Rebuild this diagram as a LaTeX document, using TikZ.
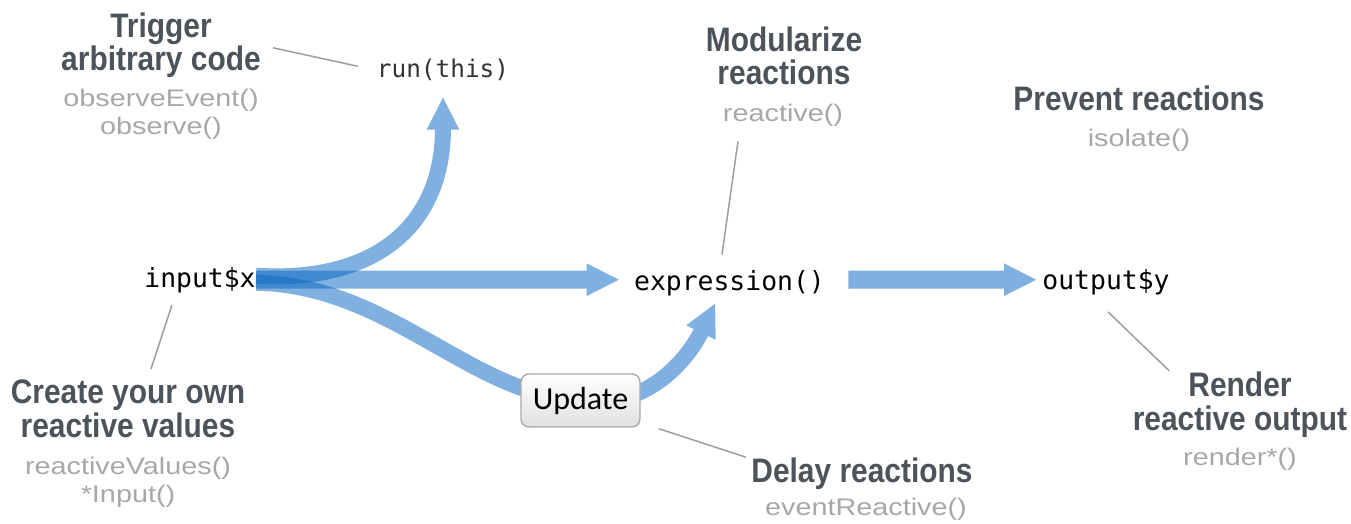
\documentclass[tikz,border=0pt]{standalone}
\usepackage{fontspec}
\usetikzlibrary{arrows.meta,backgrounds}

\newfontfamily\headfont{Liberation Sans}[FakeStretch=0.88]
\newfontfamily\fnfont{Liberation Sans}[FakeStretch=1.2]
\newfontfamily\codefont{DejaVu Sans Mono}
\newfontfamily\buttonfont{Carlito}

\definecolor{headgray}{RGB}{77,83,91}
\definecolor{fngray}{RGB}{166,168,168}
\definecolor{pointergray}{RGB}{158,158,158}
\definecolor{flowblue}{RGB}{11,104,194}
\definecolor{codedark}{RGB}{51,51,51}

\tikzset{
  head/.style={align=center, inner sep=0pt, text=headgray,
    font=\headfont\bfseries\fontsize{17}{17}\selectfont},
  fn/.style={align=center, inner sep=0pt, text=fngray,
    font=\fnfont\fontsize{12}{14}\selectfont},
  code/.style={inner sep=0pt, font=\codefont\fontsize{13.2}{15}\selectfont},
  button/.style={draw=black!33, line width=0.7pt, rounded corners=4pt,
    top color=white, bottom color=black!12, minimum width=59.5pt,
    minimum height=26.5pt, inner sep=0pt,
    font=\buttonfont\fontsize{16}{16}\selectfont},
  flow/.style={draw=flowblue, line width=8pt,
    -{Triangle[length=16.5pt,width=15pt]}},
  flowlayer/.style={transparency group, opacity=0.52},
  pointer/.style={draw=pointergray, line width=0.75pt}
}

\begin{document}
\begin{tikzpicture}[x=0.5pt,y=-0.5pt]

    \useasboundingbox (0,0) rectangle (1351,524);

    % Values, expression and output
    \node[code, anchor=base] (inputx) at (200,287) {input\$x};
    \node[code, anchor=base, text=codedark,
      font=\codefont\fontsize{12.2}{14}\selectfont] (runthis) at (443,78) {run(this)};
    \node[code, anchor=base] (expr) at (729.5,291) {expression()};
    \node[code, anchor=base] (outputy) at (1106,290) {output\$y};
    \node[button] (update) at (580.5,400.5) {Update};

    % Labels (base = last line)
    \node[head, anchor=base] (trigger) at (161,71) {Trigger\\arbitrary code};
    \node[fn, anchor=base] (triggerfn) at (161,135) {observeEvent()\\observe()};
    \node[head, anchor=base] (modular) at (784,85) {Modularize\\reactions};
    \node[fn, anchor=base] (modularfn) at (783,122) {reactive()};
    \node[head, anchor=base] (prevent) at (1139,111) {Prevent reactions};
    \node[fn, anchor=base] (preventfn) at (1139,147) {isolate()};
    \node[head, anchor=base] (create) at (128,437) {Create your own\\reactive values};
    \node[fn, anchor=base] (createfn) at (128,502) {reactiveValues()\\*Input()};
    \node[head, anchor=base] (delay) at (862,482) {Delay reactions};
    \node[fn, anchor=base] (delayfn) at (866,515) {eventReactive()};
    \node[head, anchor=base] (render) at (1240,430) {Render\\reactive output};
    \node[fn, anchor=base] (renderfn) at (1240,465) {render*()};

    % Reactive flow
    \begin{scope}[on background layer]
      \begin{scope}[flowlayer]
        \draw[flow, line width=9pt, shorten >=7pt] (inputx.east) -- (inputx.east -| expr.west);
      \end{scope}
      \begin{scope}[flowlayer]
        \draw[flow, line width=9pt, shorten <=11.5pt, shorten >=2.5pt]
          (inputx.east -| expr.east) -- (inputx.east -| outputy.west);
      \end{scope}
      \begin{scope}[flowlayer]
        \draw[flow, shorten >=7.5pt] ([yshift=2pt]inputx.east)
          .. controls (370,283) and (443,230) .. (runthis.south);
      \end{scope}
      \begin{scope}[flowlayer]
        \draw[flow] ([yshift=-1.5pt]inputx.east)
          .. controls (390,285) and (470,395) .. (update.center)
          .. controls (650,410) and (690,355) .. ([xshift=-7pt,yshift=-3pt]expr.south);
      \end{scope}
    \end{scope}

    % Pointers from labels
    \draw[pointer, shorten <=6pt, shorten >=9.5pt] (trigger.east) -- (runthis.west);
    \draw[pointer] ([xshift=-22.5pt,yshift=-7pt]modularfn.south) -- ([xshift=-3.75pt,yshift=8pt]expr.north);
    \draw[pointer] ([xshift=-14pt,yshift=-6pt]inputx.south) -- ([xshift=11.5pt,yshift=5pt]create.north);
    \draw[pointer] ([xshift=9pt,yshift=-0.5pt]update.south east) -- ([xshift=-2.5pt,yshift=8pt]delay.west);
    \draw[pointer] ([xshift=1pt,yshift=-8pt]outputy.south) -- ([xshift=18.5pt]render.north west);

\end{tikzpicture}
\end{document}
